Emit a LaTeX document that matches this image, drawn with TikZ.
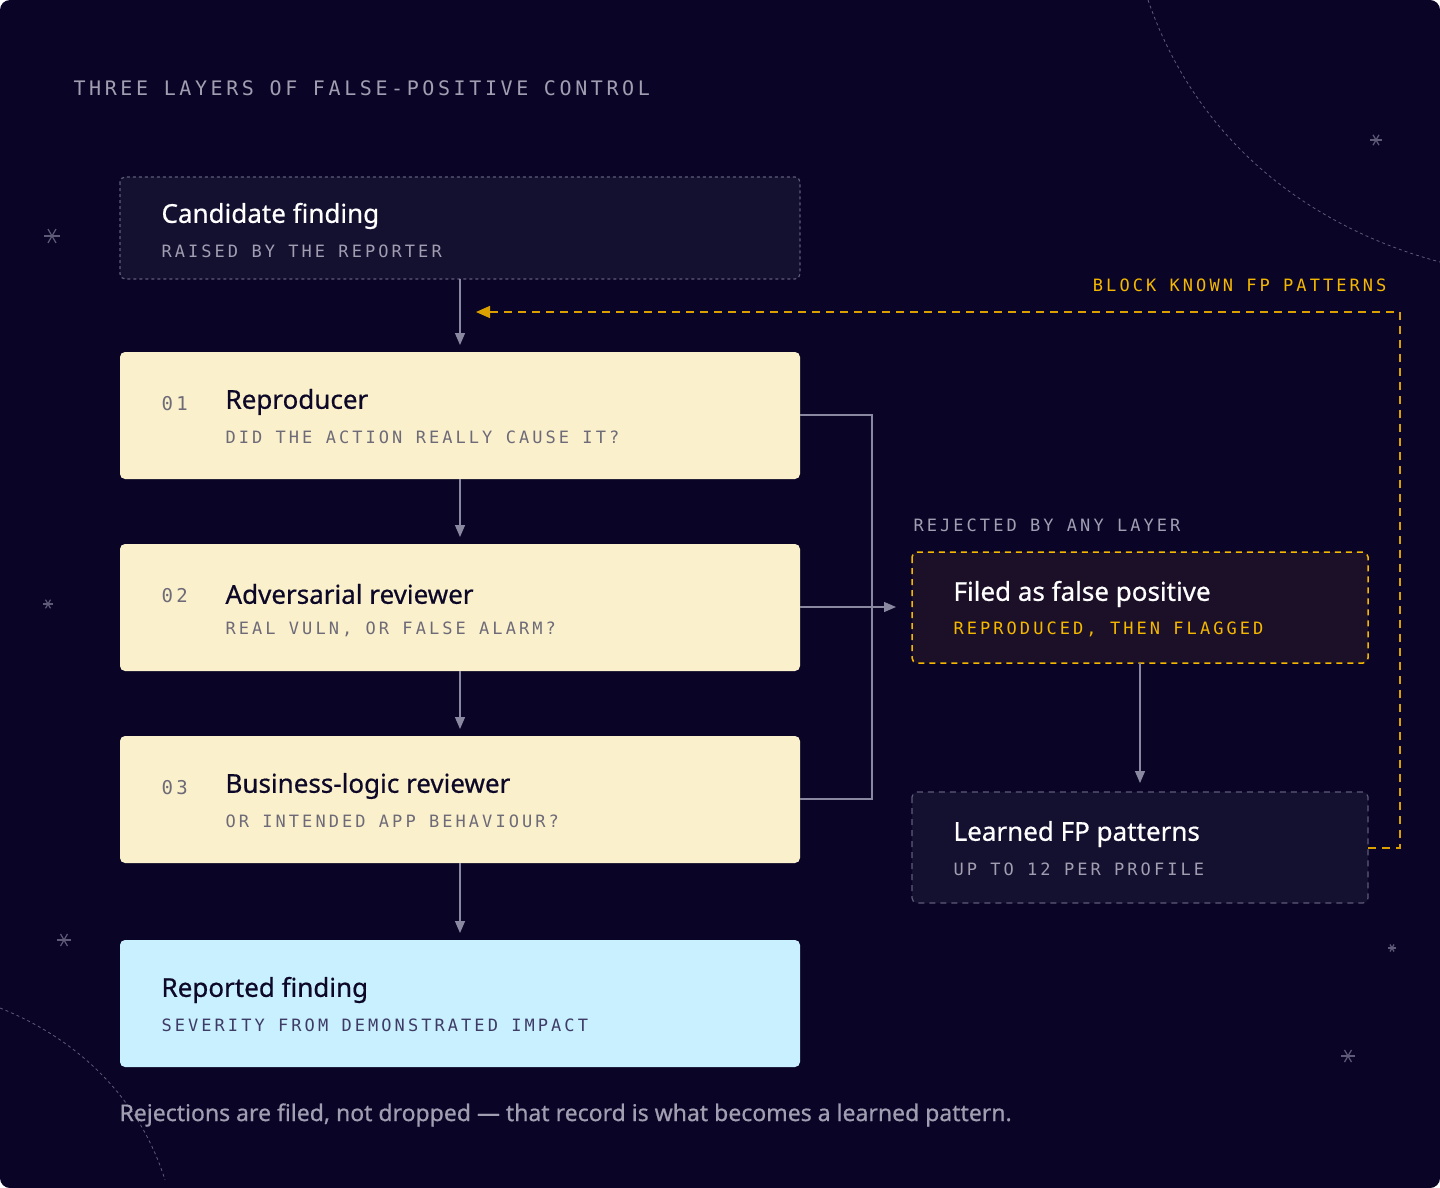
\documentclass[tikz,border=0pt]{standalone}
\usepackage{fontspec}
\setmainfont{Noto Sans}
\newfontfamily\titf[FakeBold=0.6]{Noto Sans}
\newfontfamily\monof[LetterSpace=18]{DejaVu Sans Mono}
\usetikzlibrary{arrows.meta}
\definecolor{bg}{HTML}{0A0526}
\definecolor{card}{HTML}{141030}
\definecolor{cream}{HTML}{FAF1CC}
\definecolor{sky}{HTML}{C8F0FE}
\definecolor{gold}{HTML}{F5B800}
\definecolor{goldd}{HTML}{D9A000}
\definecolor{fpbox}{HTML}{1C1028}
\definecolor{gtxt}{HTML}{A19EB2}
\definecolor{dtxt}{HTML}{6E6A78}
\definecolor{ink}{HTML}{0D0828}
\definecolor{linec}{HTML}{8A87A0}
\definecolor{dashc}{HTML}{5E5A78}
\begin{document}
\begin{tikzpicture}[x=1pt,y=-1pt,
  box/.style={rounded corners=5pt},
  ttl/.style={anchor=west,font=\fontsize{26}{30}\titf},
  sub/.style={anchor=west,font=\fontsize{17}{18}\monof},
  num/.style={anchor=west,font=\fontsize{19}{20}\monof,text=dtxt},
  conn/.style={draw=linec,line width=1.3pt},
  arr/.style={conn,-{Triangle[width=10pt,length=12pt]}},
  starsh/.pic={\foreach \a in {0,60,120}{\draw[dashc,line width=1.2pt] (\a:#1) -- (\a+180:#1);}}]
\useasboundingbox (0,0) rectangle (1440,1188);
\fill[bg,rounded corners=10pt] (0,0) rectangle (1440,1188);
% decorative arcs
\draw[dashc,dashed,line width=0.8pt] (1148,0) .. controls (1200,150) and (1320,230) .. (1440,262);
\draw[dashc,dashed,line width=0.8pt] (0,1008) .. controls (80,1040) and (140,1100) .. (165,1180);
% stars
\pic at (52,236) {starsh=8};
\pic at (1376,140) {starsh=6};
\pic at (48,604) {starsh=5};
\pic at (64,940) {starsh=7};
\pic at (1392,948) {starsh=4};
\pic at (1348,1056) {starsh=7};
% header
\node[anchor=west,text=gtxt,font=\fontsize{20}{22}\monof] (hdr) at (70,88) {THREE LAYERS OF FALSE-POSITIVE CONTROL};
% candidate
\draw[box,fill=card,draw=dashc,dashed,line width=1.2pt] (120,177) rectangle (800,279);
\coordinate (candB) at (460,279);
\node[ttl,text=white] (candT) at (158,216) {Candidate finding};
\node[sub,text=gtxt] (candS) at (158,251) {RAISED BY THE REPORTER};
% layers
\foreach \n/\y in {rep/352,adv/544,bus/736}{
  \fill[box,cream] (120,\y) rectangle (800,\y+127);
  \coordinate (\n T) at (460,\y);
  \coordinate (\n B) at (460,\y+127);
  \coordinate (\n R) at (800,\y+63);
}
\node[num] (n1) at (158,404) {01};
\node[ttl,text=ink] (t1) at (222,402) {Reproducer};
\node[sub,text=dtxt] (s1) at (222,437) {DID THE ACTION REALLY CAUSE IT?};
\node[num] (n2) at (158,596) {02};
\node[ttl,text=ink] (t2) at (222,594) {Adversarial reviewer};
\node[sub,text=dtxt] (s2) at (222,629) {REAL VULN, OR FALSE ALARM?};
\node[num] (n3) at (158,788) {03};
\node[ttl,text=ink] (t3) at (222,786) {Business-logic reviewer};
\node[sub,text=dtxt] (s3) at (222,821) {OR INTENDED APP BEHAVIOUR?};
% reported
\fill[box,sky] (120,940) rectangle (800,1067);
\coordinate (repoT) at (460,940);
\node[ttl,text=ink] (t4) at (158,990) {Reported finding};
\node[sub,text=dtxt!80!blue!70!black] (s4) at (158,1025) {SEVERITY FROM DEMONSTRATED IMPACT};
% vertical arrows
\draw[arr] (candB) -- ([yshift=7]repT);
\draw[arr] (repB) -- ([yshift=7]advT);
\draw[arr] (advB) -- ([yshift=7]busT);
\draw[arr] (busB) -- ([yshift=7]repoT);
% bus
\draw[conn] (repR) -- (872,415) -- (872,799) -- (busR);
\coordinate (fpL) at (912,607);
\draw[arr] (advR) -- ([xshift=-16]fpL);
% FP box
\node[anchor=west,text=gtxt,font=\fontsize{17}{18}\monof] (rej) at (910,525) {REJECTED BY ANY LAYER};
\draw[box,fill=fpbox,draw=gold,dash pattern=on 6pt off 5pt,line width=1.5pt] (912,552) rectangle (1368,663);
\coordinate (fpB) at (1140,663);
\node[ttl,text=white] (t5) at (950,594) {Filed as false positive};
\node[sub,text=gold] (s5) at (950,629) {REPRODUCED, THEN FLAGGED};
% learned
\draw[box,fill=card,draw=dashc,dash pattern=on 6pt off 5pt,line width=1.2pt] (912,792) rectangle (1368,903);
\coordinate (lrT) at (1140,792);
\coordinate (lrR) at (1368,848);
\node[ttl,text=white] (t6) at (950,834) {Learned FP patterns};
\node[sub,text=gtxt] (s6) at (950,869) {UP TO 12 PER PROFILE};
\draw[arr] (fpB) -- ([yshift=9]lrT);
% feedback
\coordinate (fbEnd) at (476,312);
\draw[draw=goldd,line width=1.5pt,dash pattern=on 8pt off 6pt,-{Triangle[width=12pt,length=14pt,fill=goldd]}] (lrR) -- (1400,848) -- (1400,312) -- (fbEnd);
\node[anchor=east,text=gold,font=\fontsize{17}{18}\monof] (blk) at (1390,285) {BLOCK KNOWN FP PATTERNS};
% footer
\node[anchor=west,text=gtxt,font=\fontsize{23}{26}\titf] (foot) at (116,1115) {Rejections are filed, not dropped — that record is what becomes a learned pattern.};
\end{tikzpicture}
\end{document}
